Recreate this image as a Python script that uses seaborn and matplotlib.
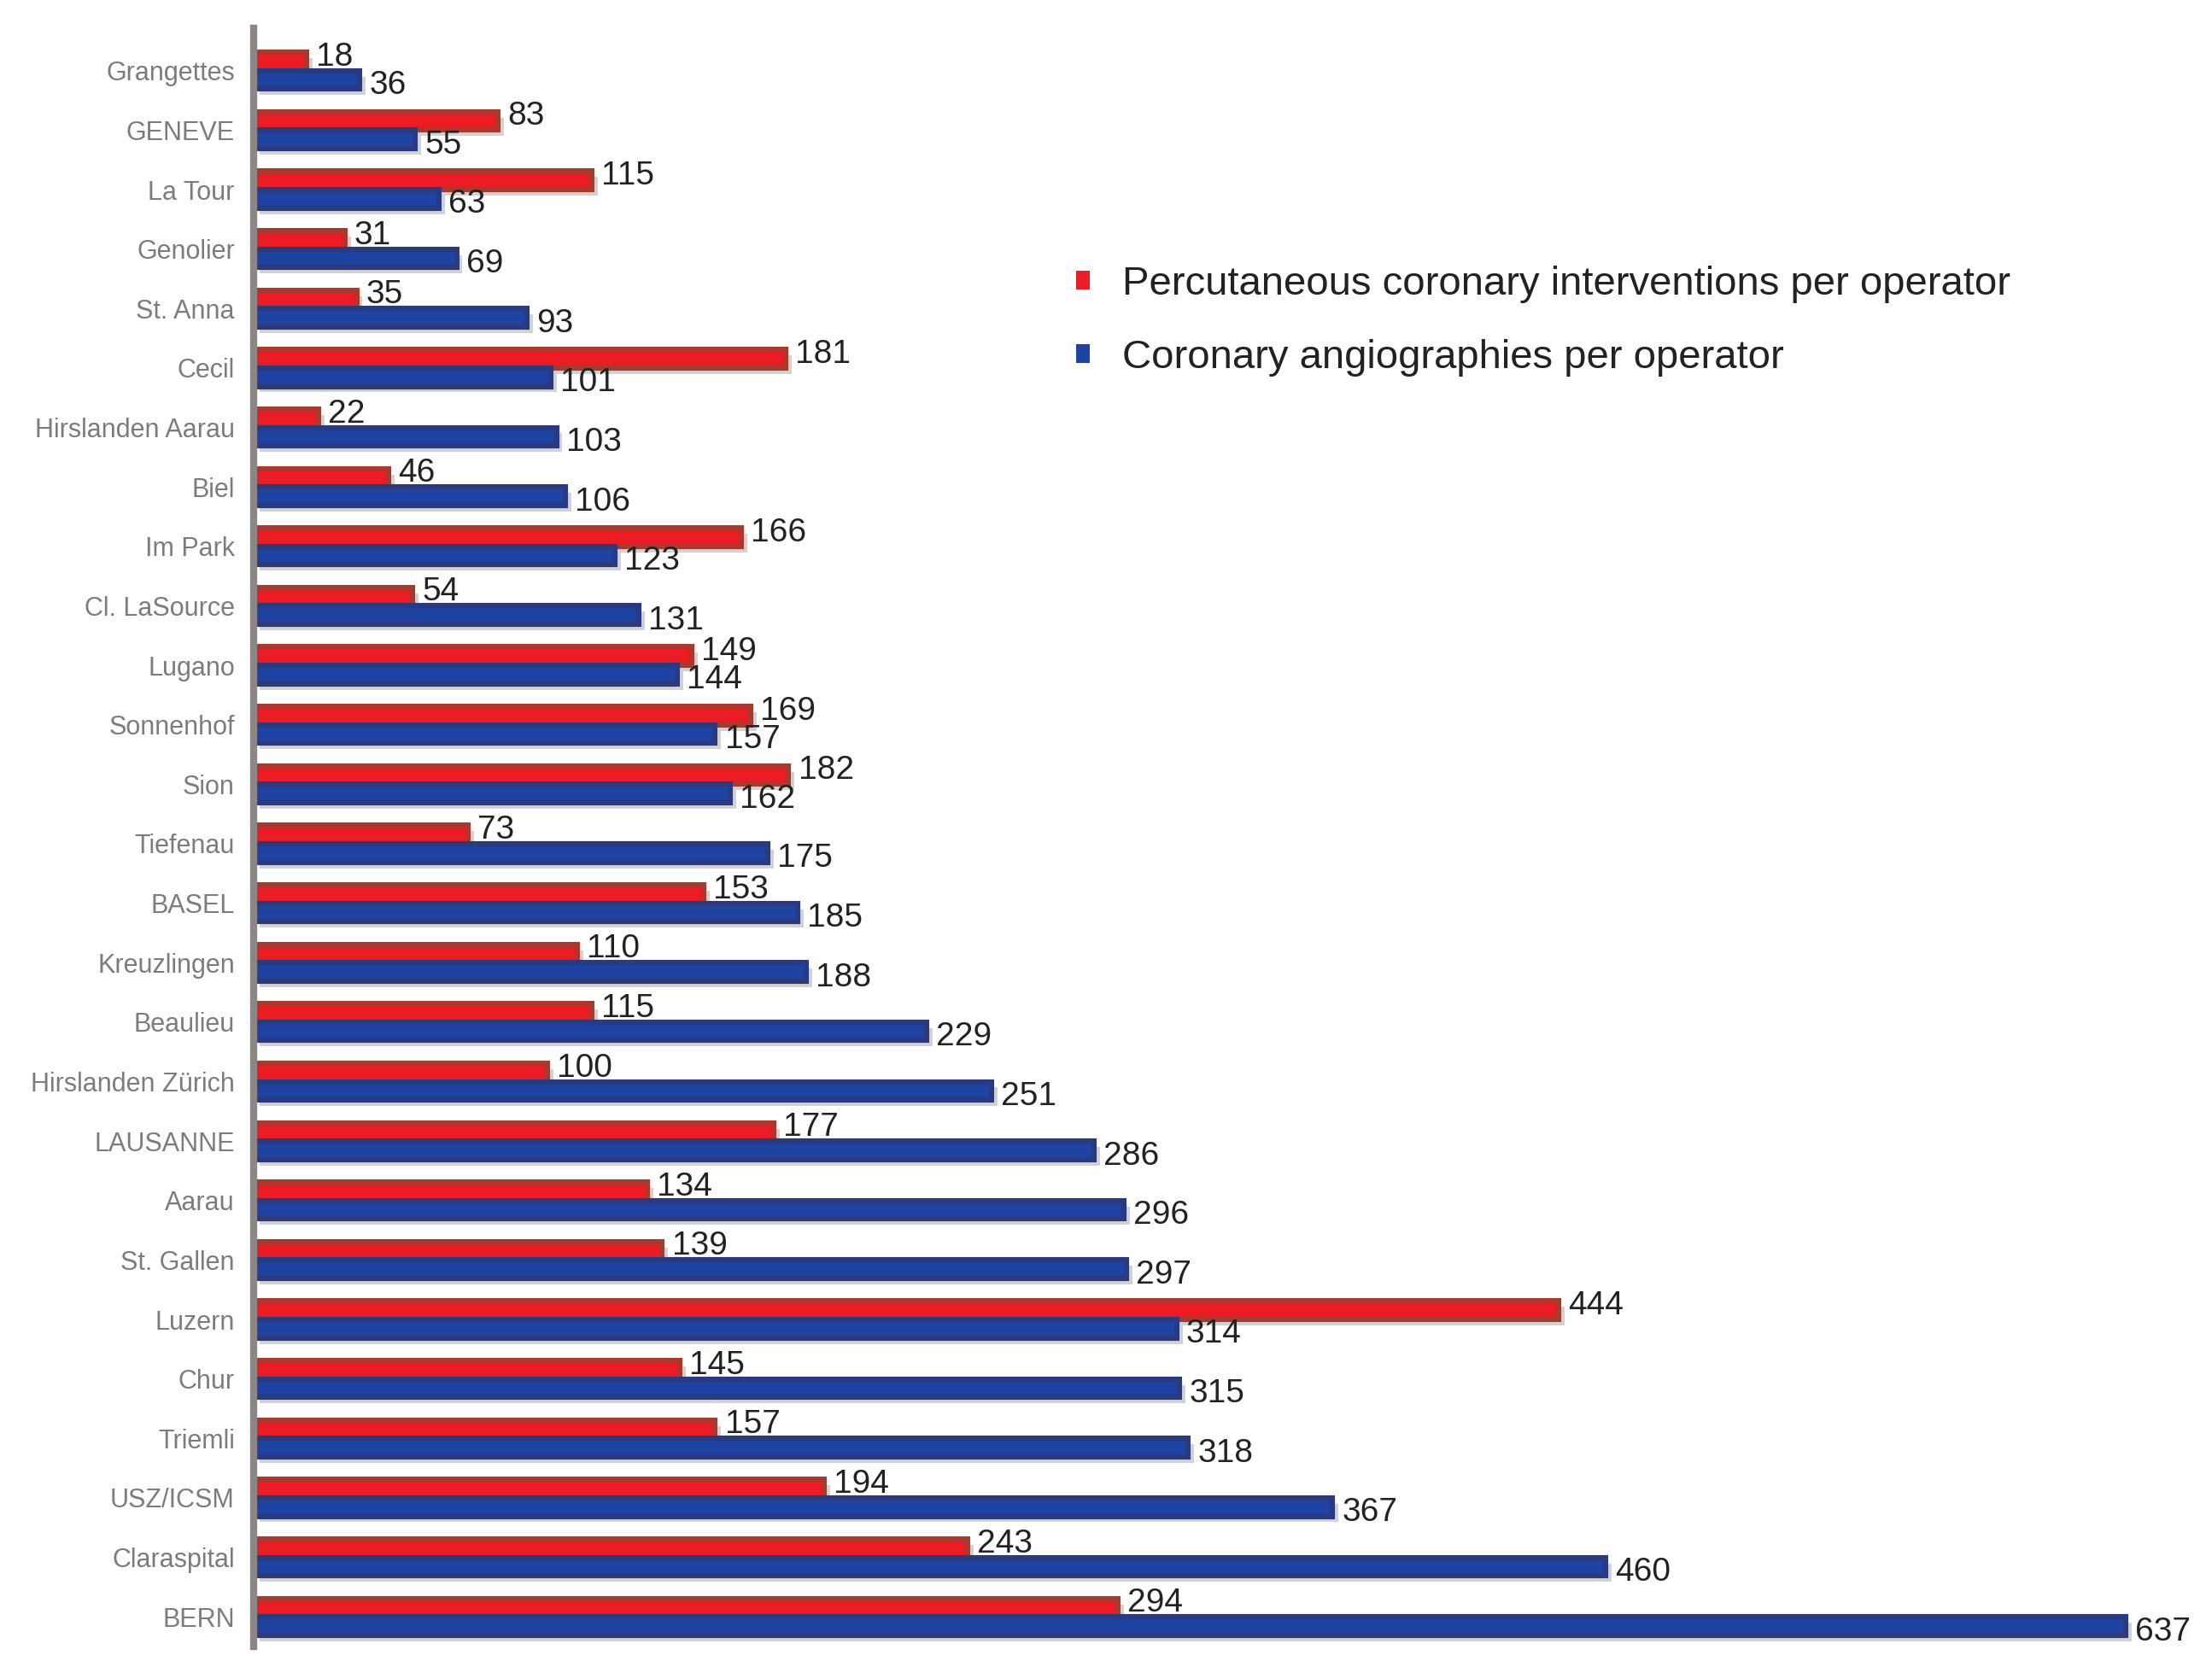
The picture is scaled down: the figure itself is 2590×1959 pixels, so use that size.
import matplotlib
matplotlib.use("Agg")
import matplotlib.pyplot as plt
import matplotlib.patheffects as pe
import pandas as pd
import seaborn as sb

# Centres (ordre du haut vers le bas)
HOSPITALS = [
    "Grangettes", "GENEVE", "La Tour", "Genolier", "St. Anna", "Cecil",
    "Hirslanden Aarau", "Biel", "Im Park", "Cl. LaSource", "Lugano",
    "Sonnenhof", "Sion", "Tiefenau", "BASEL", "Kreuzlingen", "Beaulieu",
    "Hirslanden Zürich", "LAUSANNE", "Aarau", "St. Gallen", "Luzern",
    "Chur", "Triemli", "USZ/ICSM", "Claraspital", "BERN",
]
PCI_PER_OPERATOR = [
    18, 83, 115, 31, 35, 181, 22, 46, 166, 54, 149, 169, 182, 73, 153,
    110, 115, 100, 177, 134, 139, 444, 145, 157, 194, 243, 294,
]
ANGIO_PER_OPERATOR = [
    36, 55, 63, 69, 93, 101, 103, 106, 123, 131, 144, 157, 162, 175, 185,
    188, 229, 251, 286, 296, 297, 314, 315, 318, 367, 460, 637,
]
SERIES = [
    "Percutaneous coronary interventions per operator",
    "Coronary angiographies per operator",
]

FACE = ["#ec1c24", "#1f43a3"]
EDGE = ["#a43b2e", "#2a3a7c"]


def build_frame() -> pd.DataFrame:
    pci = pd.DataFrame({"hospital": HOSPITALS, "series": SERIES[0], "value": PCI_PER_OPERATOR})
    cag = pd.DataFrame({"hospital": HOSPITALS, "series": SERIES[1], "value": ANGIO_PER_OPERATOR})
    return pd.concat([pci, cag], ignore_index=True)


def main():
    sb.set_style("white")
    plt.rcParams["font.family"] = ["Liberation Sans", "DejaVu Sans"]

    df = build_frame()
    fig = plt.figure(figsize=(12.95, 9.795), dpi=200)
    ax = fig.add_axes([0.1147, 0.0158, 0.877, 0.9672])

    sb.barplot(data=df, y="hospital", x="value", hue="series", order=HOSPITALS,
               hue_order=SERIES, palette=FACE, orient="h", width=0.62,
               saturation=1, errorbar=None, ax=ax)

    shadow = [pe.SimplePatchShadow(offset=(2.5, -2.5), shadow_rgbFace="#d2d2d2", alpha=1), pe.Normal()]
    for container, edge in zip(ax.containers, EDGE):
        for bar in container:
            bar.set_edgecolor(edge)
            bar.set_linewidth(2.2)
            bar.set_path_effects(shadow)

    # etiquetas de valor
    for i, (a, b) in enumerate(zip(PCI_PER_OPERATOR, ANGIO_PER_OPERATOR)):
        ax.annotate(str(a), (a, i - 0.23), xytext=(4, 0), textcoords="offset points",
                    va="center", ha="left", fontsize=14, color="#222222")
        ax.annotate(str(b), (b, i + 0.25), xytext=(4, 0), textcoords="offset points",
                    va="center", ha="left", fontsize=14, color="#222222")

    ax.set_xlim(0, 660)
    ax.set_ylim(26.5, -0.71)
    ax.set_xlabel("")
    ax.set_ylabel("")
    ax.set_xticks([])

    for side in ["top", "right", "bottom"]:
        ax.spines[side].set_visible(False)
    ax.spines["left"].set_color("#8c8686")
    ax.spines["left"].set_linewidth(3)

    ax.set_yticks([k + 0.5 for k in range(-1, 27)], minor=True)
    ax.tick_params(axis="y", which="major", length=0, pad=8, labelsize=11, labelcolor="#7c7c7c")
    ax.tick_params(axis="y", which="minor", length=3, width=2, color="#aaaaaa")

    sb.move_legend(ax, "upper left", bbox_to_anchor=(0.405, 0.876), frameon=False, title=None,
                   fontsize=17, handlelength=0.35, handleheight=0.35, handletextpad=0.8,
                   labelspacing=0.9, labelcolor="#222222")
    for h in ax.get_legend().legend_handles:
        h.set_path_effects([])
        h.set_linewidth(0)

    fig.savefig("out.png", dpi=200)
    plt.close(fig)


if __name__ == "__main__":
    main()
